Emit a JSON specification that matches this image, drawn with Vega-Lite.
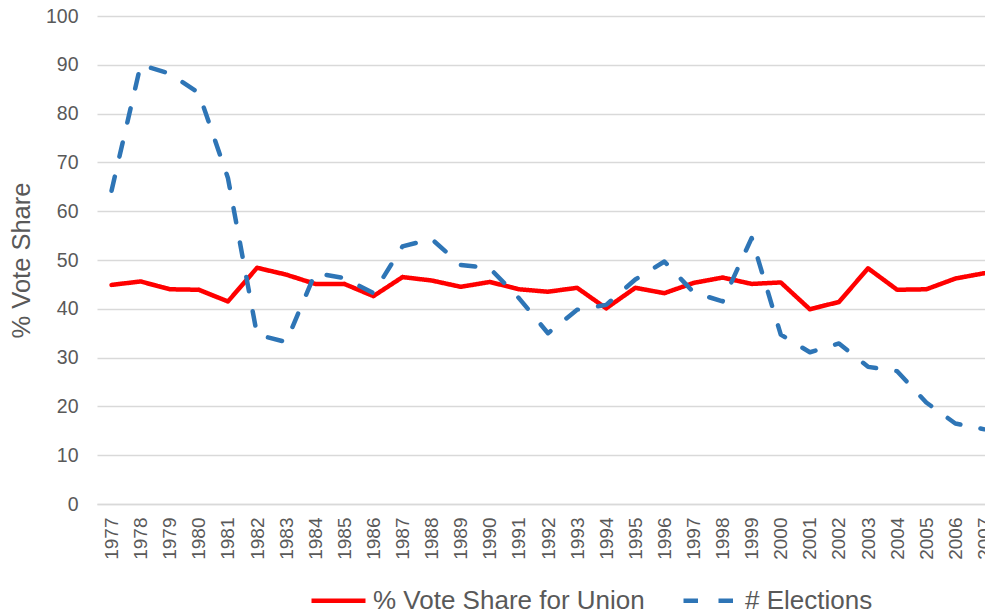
{
  "$schema": "https://vega.github.io/schema/vega-lite/v6.json",
  "width": 902,
  "height": 488,
  "autosize": {"type": "none"},
  "padding": {"left": 97, "top": 16, "right": 0, "bottom": 110},
  "background": "white",
  "config": {
    "font": "Liberation Sans",
    "view": {"stroke": null}
  },
  "data": {
    "values": [
      {"year": "1977", "series": "% Vote Share for Union", "value": 44.9},
      {"year": "1978", "series": "% Vote Share for Union", "value": 45.6},
      {"year": "1979", "series": "% Vote Share for Union", "value": 44.0},
      {"year": "1980", "series": "% Vote Share for Union", "value": 43.9},
      {"year": "1981", "series": "% Vote Share for Union", "value": 41.5},
      {"year": "1982", "series": "% Vote Share for Union", "value": 48.4},
      {"year": "1983", "series": "% Vote Share for Union", "value": 47.0},
      {"year": "1984", "series": "% Vote Share for Union", "value": 45.1},
      {"year": "1985", "series": "% Vote Share for Union", "value": 45.1},
      {"year": "1986", "series": "% Vote Share for Union", "value": 42.6},
      {"year": "1987", "series": "% Vote Share for Union", "value": 46.5},
      {"year": "1988", "series": "% Vote Share for Union", "value": 45.8},
      {"year": "1989", "series": "% Vote Share for Union", "value": 44.5},
      {"year": "1990", "series": "% Vote Share for Union", "value": 45.5},
      {"year": "1991", "series": "% Vote Share for Union", "value": 44.0},
      {"year": "1992", "series": "% Vote Share for Union", "value": 43.5},
      {"year": "1993", "series": "% Vote Share for Union", "value": 44.3},
      {"year": "1994", "series": "% Vote Share for Union", "value": 40.1},
      {"year": "1995", "series": "% Vote Share for Union", "value": 44.3},
      {"year": "1996", "series": "% Vote Share for Union", "value": 43.2},
      {"year": "1997", "series": "% Vote Share for Union", "value": 45.3},
      {"year": "1998", "series": "% Vote Share for Union", "value": 46.4},
      {"year": "1999", "series": "% Vote Share for Union", "value": 45.1},
      {"year": "2000", "series": "% Vote Share for Union", "value": 45.4},
      {"year": "2001", "series": "% Vote Share for Union", "value": 39.9},
      {"year": "2002", "series": "% Vote Share for Union", "value": 41.4},
      {"year": "2003", "series": "% Vote Share for Union", "value": 48.3},
      {"year": "2004", "series": "% Vote Share for Union", "value": 43.9},
      {"year": "2005", "series": "% Vote Share for Union", "value": 44.0},
      {"year": "2006", "series": "% Vote Share for Union", "value": 46.2},
      {"year": "2007", "series": "% Vote Share for Union", "value": 47.3},
      {"year": "1977", "series": "# Elections", "value": 64.2},
      {"year": "1978", "series": "# Elections", "value": 90.0},
      {"year": "1979", "series": "# Elections", "value": 88.2},
      {"year": "1980", "series": "# Elections", "value": 84.2},
      {"year": "1981", "series": "# Elections", "value": 66.8},
      {"year": "1982", "series": "# Elections", "value": 34.7},
      {"year": "1983", "series": "# Elections", "value": 33.2},
      {"year": "1984", "series": "# Elections", "value": 47.3},
      {"year": "1985", "series": "# Elections", "value": 46.3},
      {"year": "1986", "series": "# Elections", "value": 43.2},
      {"year": "1987", "series": "# Elections", "value": 52.8},
      {"year": "1988", "series": "# Elections", "value": 54.3},
      {"year": "1989", "series": "# Elections", "value": 49.0},
      {"year": "1990", "series": "# Elections", "value": 48.3},
      {"year": "1991", "series": "# Elections", "value": 42.2},
      {"year": "1992", "series": "# Elections", "value": 35.0},
      {"year": "1993", "series": "# Elections", "value": 39.8},
      {"year": "1994", "series": "# Elections", "value": 40.8},
      {"year": "1995", "series": "# Elections", "value": 46.0},
      {"year": "1996", "series": "# Elections", "value": 49.7},
      {"year": "1997", "series": "# Elections", "value": 43.4},
      {"year": "1998", "series": "# Elections", "value": 41.5},
      {"year": "1999", "series": "# Elections", "value": 54.5},
      {"year": "2000", "series": "# Elections", "value": 34.7},
      {"year": "2001", "series": "# Elections", "value": 31.1},
      {"year": "2002", "series": "# Elections", "value": 32.9},
      {"year": "2003", "series": "# Elections", "value": 28.1},
      {"year": "2004", "series": "# Elections", "value": 27.2},
      {"year": "2005", "series": "# Elections", "value": 20.8},
      {"year": "2006", "series": "# Elections", "value": 16.5},
      {"year": "2007", "series": "# Elections", "value": 15.3}
    ]
  },
  "mark": {"type": "line", "strokeWidth": 4.5, "strokeCap": "round", "strokeJoin": "round"},
  "encoding": {
    "x": {
      "field": "year",
      "type": "ordinal",
      "scale": {"padding": 0.5},
      "axis": {
        "title": null,
        "labelAngle": 270,
        "labelAlign": "right",
        "labelBaseline": "middle",
        "labelFontSize": 19,
        "labelColor": "#595959",
        "labelPadding": 13,
        "ticks": false,
        "tickSize": 0,
        "domain": true,
        "domainColor": "#d9d9d9",
        "domainWidth": 1.3,
        "grid": false
      }
    },
    "y": {
      "field": "value",
      "type": "quantitative",
      "scale": {"domain": [0, 100], "nice": false},
      "axis": {
        "title": "% Vote Share",
        "titleFontSize": 25.5,
        "titleFontWeight": "normal",
        "titleColor": "#595959",
        "titlePadding": 11,
        "values": [0, 10, 20, 30, 40, 50, 60, 70, 80, 90, 100],
        "labelFontSize": 19.5,
        "labelColor": "#595959",
        "labelPadding": 19,
        "ticks": false,
        "tickSize": 0,
        "domain": false,
        "grid": true,
        "gridColor": "#d9d9d9",
        "gridWidth": 1.3
      }
    },
    "color": {
      "field": "series",
      "type": "nominal",
      "sort": null,
      "scale": {"domain": ["% Vote Share for Union", "# Elections"], "range": ["#FF0000", "#2E75B6"]},
      "legend": {
        "title": null,
        "orient": "none",
        "legendX": 212,
        "legendY": 555,
        "direction": "horizontal",
        "padding": 0,
        "labelFontSize": 26,
        "labelColor": "#595959",
        "labelLimit": 500,
        "labelOffset": 5,
        "columnPadding": 29,
        "symbolType": "stroke",
        "symbolSize": 2916,
        "symbolStrokeWidth": 4.5
      }
    },
    "strokeDash": {
      "field": "series",
      "type": "nominal",
      "sort": null,
      "scale": {"domain": ["% Vote Share for Union", "# Elections"], "range": [[1, 0], [14.5, 20.5]]},
      "legend": {
        "title": null,
        "orient": "none",
        "legendX": 212,
        "legendY": 555,
        "direction": "horizontal",
        "padding": 0,
        "labelFontSize": 26,
        "labelColor": "#595959",
        "labelLimit": 500,
        "labelOffset": 5,
        "columnPadding": 29,
        "symbolType": "stroke",
        "symbolSize": 2916,
        "symbolStrokeWidth": 4.5
      }
    }
  }
}
